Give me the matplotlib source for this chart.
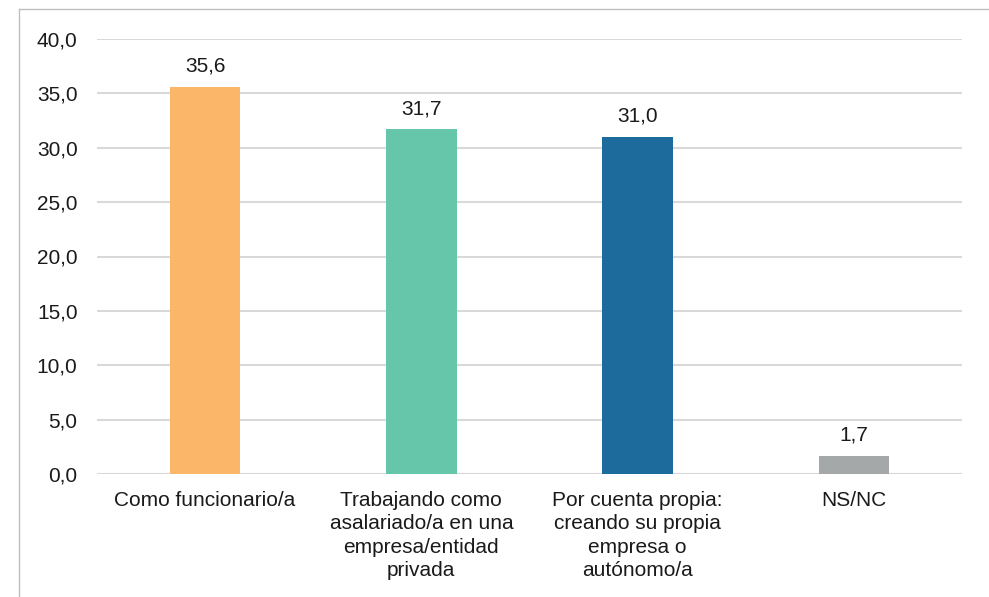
import matplotlib
matplotlib.use("Agg")
import matplotlib.pyplot as plt
from matplotlib.lines import Line2D

categories = ["Como funcionario/a",
              "Trabajando como\nasalariado/a en una\nempresa/entidad\nprivada",
              "Por cuenta propia:\ncreando su propia\nempresa o\nautónomo/a",
              "NS/NC"]
values = [35.6, 31.7, 31.0, 1.7]
value_labels = ["35,6", "31,7", "31,0", "1,7"]
colors = ["#FBB669", "#66C6AA", "#1D6A9C", "#A5A8A9"]
yticks = [0, 5, 10, 15, 20, 25, 30, 35, 40]
ytick_labels = ["0,0", "5,0", "10,0", "15,0", "20,0", "25,0", "30,0", "35,0", "40,0"]

plt.rcParams['font.family'] = ['Liberation Sans', 'DejaVu Sans']

fig = plt.figure(figsize=(9.89, 5.97), dpi=100)
ax = fig.add_axes([97/989, 1-474/597, (962-97)/989, (474-39)/597])

x = list(range(len(categories)))
ax.bar(x, values, width=0.325, color=colors, zorder=3)
for xi, v, lab in zip(x, values, value_labels):
    ax.text(xi, v + 1.0, lab, ha='center', va='bottom', fontsize=15, color='#1A1A1A')

ax.set_xlim(-0.5, 3.5)
ax.set_ylim(0, 40)
ax.set_yticks(yticks)
ax.set_yticklabels(ytick_labels, fontsize=15, color='#1A1A1A')
ax.set_xticks(x)
ax.set_xticklabels(categories, fontsize=15, color='#1A1A1A', linespacing=1.3, va='top')
ax.tick_params(axis='both', length=0)
ax.tick_params(axis='y', pad=14)
ax.tick_params(axis='x', pad=12)
ax.yaxis.grid(True, color='#D9D9D9', linewidth=1.5, zorder=0)
ax.set_axisbelow(True)
for s in ax.spines.values():
    s.set_visible(False)

# outer frame (top and left edges)
fig.add_artist(Line2D([19/989, 19/989], [0, 1-9/597], transform=fig.transFigure, color='#BFBFBF', linewidth=1))
fig.add_artist(Line2D([19/989, 1], [1-9/597, 1-9/597], transform=fig.transFigure, color='#BFBFBF', linewidth=1))

fig.savefig("out.png", dpi=100)
